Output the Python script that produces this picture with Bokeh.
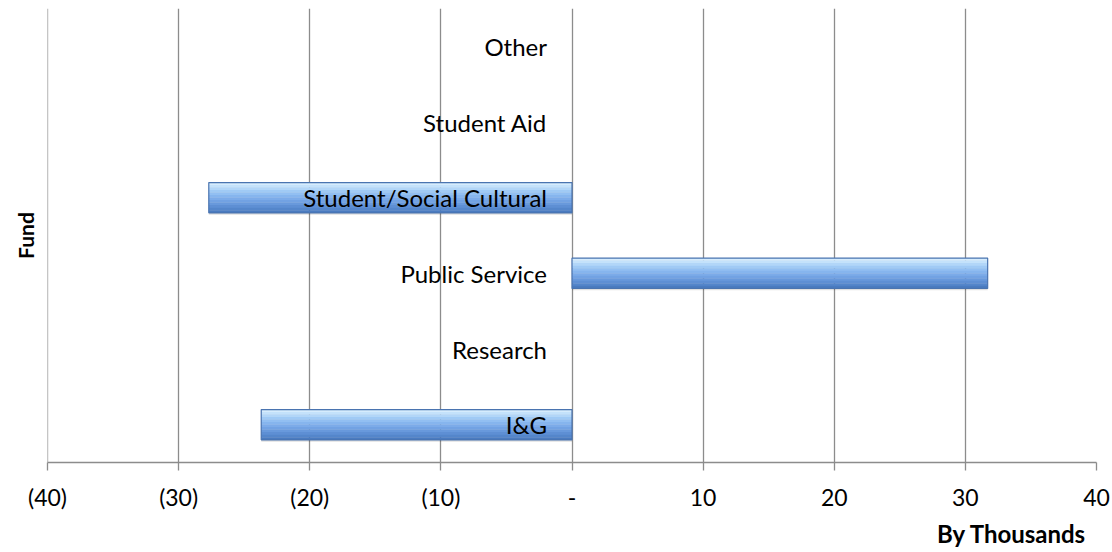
from bokeh.plotting import figure
from bokeh.models import ColumnDataSource, FactorRange, FixedTicker, Range1d, Title, Span
from bokeh.transform import dodge
from bokeh.core.properties import value
from bokeh.embed import file_html
from bokeh.resources import INLINE

categories = ["I&G", "Research", "Public Service", "Student/Social Cultural", "Student Aid", "Other"]
values = [-23.7, 0, 31.7, -27.7, 0, 0]
tick_values = [-40, -30, -20, -10, 0, 10, 20, 30, 40]
tick_labels = ["(40)", "(30)", "(20)", "(10)", "-", "10", "20", "30", "40"]

FONT = "Lato"

p = figure(width=1112, height=552, y_range=FactorRange(*categories, range_padding=0),
           x_range=Range1d(tick_values[0], tick_values[-1]), output_backend="svg", toolbar_location=None,
           min_border_left=45, min_border_right=16, min_border_top=8, min_border_bottom=90)
p.outline_line_color = None
p.background_fill_color = "white"
p.border_fill_color = "white"

# grid
p.ygrid.grid_line_color = None
p.xgrid.grid_line_color = "#8c8c8c"
p.xgrid.grid_line_width = 1.3
p.xaxis.ticker = FixedTicker(ticks=tick_values)
p.xaxis.major_label_overrides = {t: l for t, l in zip(tick_values, tick_labels)}
p.xaxis.major_label_text_font = FONT
p.xaxis.major_label_text_font_size = "23px"
p.xaxis.major_label_text_color = "#000000"
p.xaxis.major_label_standoff = 12
p.xaxis.axis_line_color = "#8c8c8c"
p.xaxis.axis_line_width = 1.3
p.xaxis.major_tick_line_color = "#8c8c8c"
p.xaxis.major_tick_line_width = 1.3
p.xaxis.major_tick_out = 8
p.xaxis.major_tick_in = 0
p.xaxis.minor_tick_line_color = None

# vertical axis line at the left edge of the value range
p.add_layout(Span(location=tick_values[0], dimension="height", line_color="#8c8c8c", line_width=1.3))

# hide categorical axis; the "Fund" title is drawn as a left title
p.yaxis.visible = False
p.add_layout(Title(text="Fund", align="center", text_font=FONT, text_font_style="bold",
                   text_font_size="21px", text_color="#000000", standoff=20), "left")

# bars (only non-zero)
bar_cats = [c for c, v in zip(categories, values) if v != 0]
bar_vals = [v for v in values if v != 0]
src = ColumnDataSource(dict(cat=bar_cats, val=bar_vals, zero=[0] * len(bar_vals)))

# shadow
p.hbar(y=dodge("cat", -0.025, range=p.y_range), left="zero", right="val", height=0.40, source=src,
       fill_color="#000000", fill_alpha=0.12, line_color=None)

# gradient strips (top light -> bottom dark)
H = 0.40
colors = ["#d6ecfd", "#c4e2fb", "#b2d6f8", "#a0caf5", "#92bff2", "#86b5ee",
          "#7cabe9", "#72a2e3", "#6899dc", "#5e8fd4", "#5486cb", "#4a7bc0"]
n = len(colors)
sh = H / n
for i, c in enumerate(colors):
    off = H / 2 - sh * (i + 0.5)
    p.hbar(y=dodge("cat", off, range=p.y_range), left="zero", right="val", height=sh * 1.1,
           source=src, fill_color=c, line_color=None)
# outline
p.hbar(y="cat", left="zero", right="val", height=H, source=src,
       fill_color=None, line_color="#4a74b0", line_width=1.2)

# category labels
lab = ColumnDataSource(dict(cat=categories, x=[0] * len(categories)))
p.text(x="x", y="cat", text="cat", source=lab, x_offset=-25, text_align="right",
       text_baseline="middle", text_font=value(FONT), text_font_size="24px", text_color="#000000")

p.add_layout(Title(text="By Thousands", align="right", text_font=FONT, text_font_style="bold",
                   text_font_size="24px", text_color="#000000", offset=10, standoff=6), "below")

open("out.html", "w").write(file_html(p, INLINE))
